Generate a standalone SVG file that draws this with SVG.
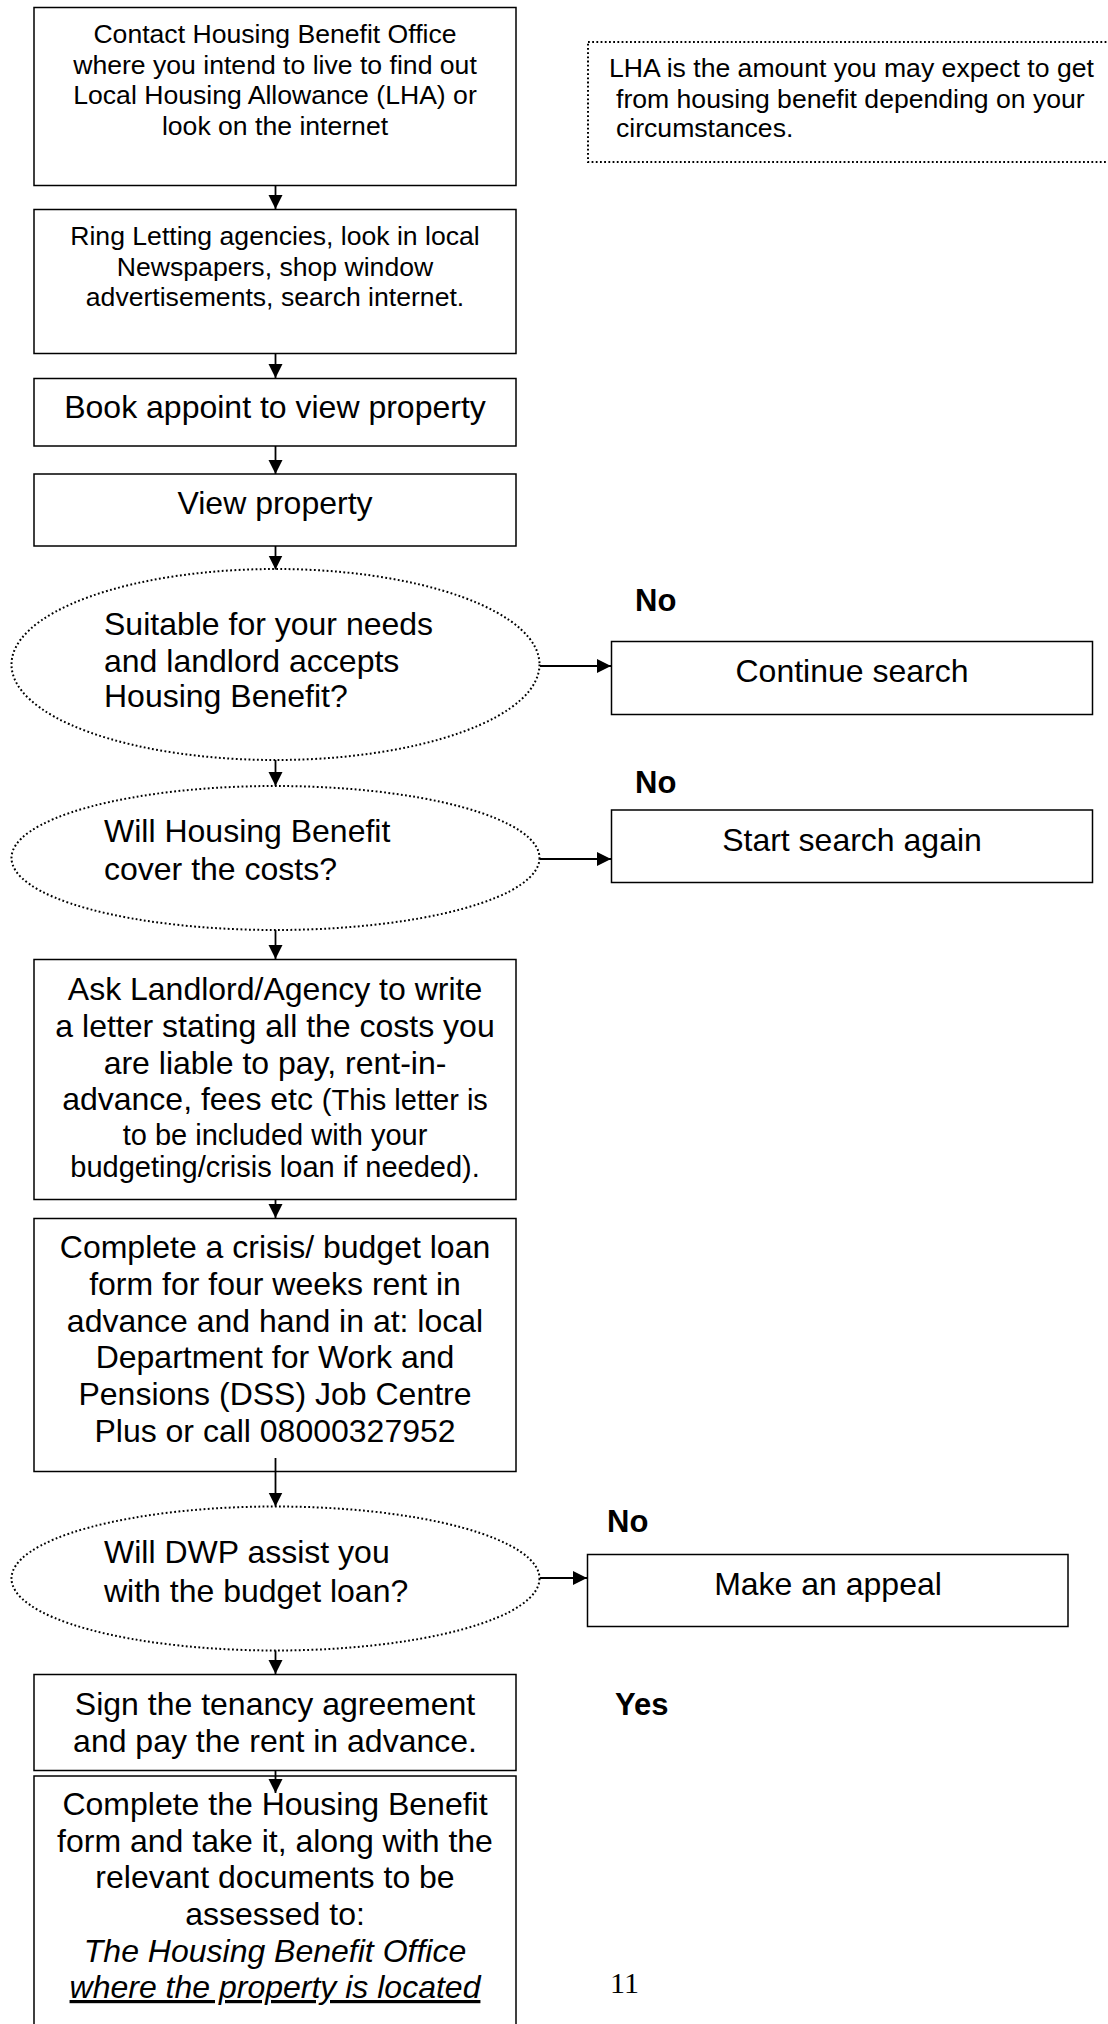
<svg xmlns="http://www.w3.org/2000/svg" width="1108" height="2024" viewBox="0 0 1108 2024">
<style>
.box{fill:#fff;stroke:#000;stroke-width:1.5}
.dot{fill:#fff;stroke:#000;stroke-width:2;stroke-dasharray:1.8 2.4}
.t{font-family:"Liberation Sans",Arial,sans-serif;font-size:32px;fill:#000}
.s{font-size:26.6px}
.m{font-size:29px}
.c{text-anchor:middle}
.b{font-weight:bold;font-size:31px}
.i{font-style:italic}
.conn line{stroke:#000;stroke-width:1.8}
</style>
<defs>
<marker id="ah" markerUnits="userSpaceOnUse" markerWidth="16" markerHeight="16" viewBox="0 0 16 16" refX="14" refY="7.5" orient="auto">
<path d="M0,0.5 L14,7.5 L0,14.5 Z" fill="#000"/>
</marker>
</defs>
<rect width="1108" height="2024" fill="#fff"/>

<g id="note-lha">
<rect class="dot" x="588" y="42" width="600" height="120"/>
<text class="t s" x="609" y="77">LHA is the amount you may expect to get</text>
<text class="t s" x="616" y="107.5">from housing benefit depending on your</text>
<text class="t s" x="616" y="137">circumstances.</text>
</g>

<g id="n1-contact">
<rect class="box" x="34" y="7.5" width="482" height="178"/>
<text class="t s c" x="275" y="43">Contact Housing Benefit Office</text>
<text class="t s c" x="275" y="73.5">where you intend to live to find out</text>
<text class="t s c" x="275" y="104">Local Housing Allowance (LHA) or</text>
<text class="t s c" x="275" y="134.5">look on the internet</text>
</g>

<g id="n2-ring">
<rect class="box" x="34" y="209.5" width="482" height="144"/>
<text class="t s c" x="275" y="245">Ring Letting agencies, look in local</text>
<text class="t s c" x="275" y="276">Newspapers, shop window</text>
<text class="t s c" x="275" y="306">advertisements, search internet.</text>
</g>

<g id="n3-book">
<rect class="box" x="34" y="378.5" width="482" height="67.5"/>
<text class="t c" x="275" y="418">Book appoint to view property</text>
</g>

<g id="n4-view">
<rect class="box" x="34" y="474" width="482" height="72"/>
<text class="t c" x="275" y="514">View property</text>
</g>

<g id="d1-suitable">
<ellipse class="dot" cx="275.5" cy="664.5" rx="264" ry="95.5"/>
<text class="t" x="104" y="635">Suitable for your needs</text>
<text class="t" x="104" y="671.5">and landlord accepts</text>
<text class="t" x="104" y="706.5">Housing Benefit?</text>
</g>

<g id="n5-continue">
<rect class="box" x="611.5" y="641.5" width="481" height="73"/>
<text class="t c" x="852" y="682">Continue search</text>
</g>

<g id="d2-cover">
<ellipse class="dot" cx="275.5" cy="858" rx="264" ry="72"/>
<text class="t" x="104" y="841.5">Will Housing Benefit</text>
<text class="t" x="104" y="880">cover the costs?</text>
</g>

<g id="n6-start">
<rect class="box" x="611.5" y="810" width="481" height="72.5"/>
<text class="t c" x="852" y="850.5">Start search again</text>
</g>

<g id="n7-ask">
<rect class="box" x="34" y="959.5" width="482" height="240"/>
<text class="t c" x="275" y="999.5">Ask Landlord/Agency to write</text>
<text class="t c" x="275" y="1036.5">a letter stating all the costs you</text>
<text class="t c" x="275" y="1074">are liable to pay, rent-in-</text>
<text class="t c" x="275" y="1110">advance, fees etc <tspan class="m">(This letter is</tspan></text>
<text class="t m c" x="275" y="1145">to be included with your</text>
<text class="t m c" x="275" y="1177">budgeting/crisis loan if needed).</text>
</g>

<g id="n8-complete-loan">
<rect class="box" x="34" y="1218.5" width="482" height="253"/>
<text class="t c" x="275" y="1258">Complete a crisis/ budget loan</text>
<text class="t c" x="275" y="1295">form for four weeks rent in</text>
<text class="t c" x="275" y="1331.5">advance and hand in at: local</text>
<text class="t c" x="275" y="1368">Department for Work and</text>
<text class="t c" x="275" y="1405">Pensions (DSS) Job Centre</text>
<text class="t c" x="275" y="1441.5">Plus or call 08000327952</text>
</g>

<g id="d3-dwp">
<ellipse class="dot" cx="275.5" cy="1578.5" rx="264" ry="72"/>
<text class="t" x="104" y="1563">Will DWP assist you</text>
<text class="t" x="104" y="1601.5">with the budget loan?</text>
</g>

<g id="n9-appeal">
<rect class="box" x="587.5" y="1554.5" width="480.5" height="72"/>
<text class="t c" x="828" y="1594.5">Make an appeal</text>
</g>

<g id="n10-sign">
<rect class="box" x="34" y="1674.5" width="482" height="96"/>
<text class="t c" x="275" y="1715">Sign the tenancy agreement</text>
<text class="t c" x="275" y="1751.5">and pay the rent in advance.</text>
</g>

<g id="n11-hb-form">
<rect class="box" x="34" y="1776" width="482" height="300"/>
<text class="t c" x="275" y="1815">Complete the Housing Benefit</text>
<text class="t c" x="275" y="1851.5">form and take it, along with the</text>
<text class="t c" x="275" y="1888">relevant documents to be</text>
<text class="t c" x="275" y="1925">assessed to:</text>
<text class="t i c" x="275" y="1961.5">The Housing Benefit Office</text>
<text class="t i c" x="275" y="1998" text-decoration="underline">where the property is located</text>
</g>

<g id="labels">
<text class="t b" x="635" y="611">No</text>
<text class="t b" x="635" y="793">No</text>
<text class="t b" x="607" y="1532">No</text>
<text class="t b" x="615" y="1715">Yes</text>
<text x="610" y="1993" font-family="'Liberation Serif','Times New Roman',serif" font-size="30" fill="#000">11</text>
</g>

<g id="connectors" class="conn">
<line x1="275.5" y1="186" x2="275.5" y2="209" marker-end="url(#ah)"/>
<line x1="275.5" y1="353.5" x2="275.5" y2="378" marker-end="url(#ah)"/>
<line x1="275.5" y1="446" x2="275.5" y2="474" marker-end="url(#ah)"/>
<line x1="275.5" y1="546" x2="275.5" y2="569.5" marker-end="url(#ah)"/>
<line x1="275.5" y1="760" x2="275.5" y2="786" marker-end="url(#ah)"/>
<line x1="275.5" y1="930" x2="275.5" y2="959" marker-end="url(#ah)"/>
<line x1="275.5" y1="1199.5" x2="275.5" y2="1218" marker-end="url(#ah)"/>
<line x1="275.5" y1="1458" x2="275.5" y2="1506.5" marker-end="url(#ah)"/>
<line x1="275.5" y1="1650.5" x2="275.5" y2="1674" marker-end="url(#ah)"/>
<line x1="275.5" y1="1770.5" x2="275.5" y2="1793" marker-end="url(#ah)"/>
<line x1="540" y1="666" x2="611" y2="666" marker-end="url(#ah)"/>
<line x1="540" y1="859" x2="611" y2="859" marker-end="url(#ah)"/>
<line x1="540" y1="1578" x2="587" y2="1578" marker-end="url(#ah)"/>
</g>
</svg>
